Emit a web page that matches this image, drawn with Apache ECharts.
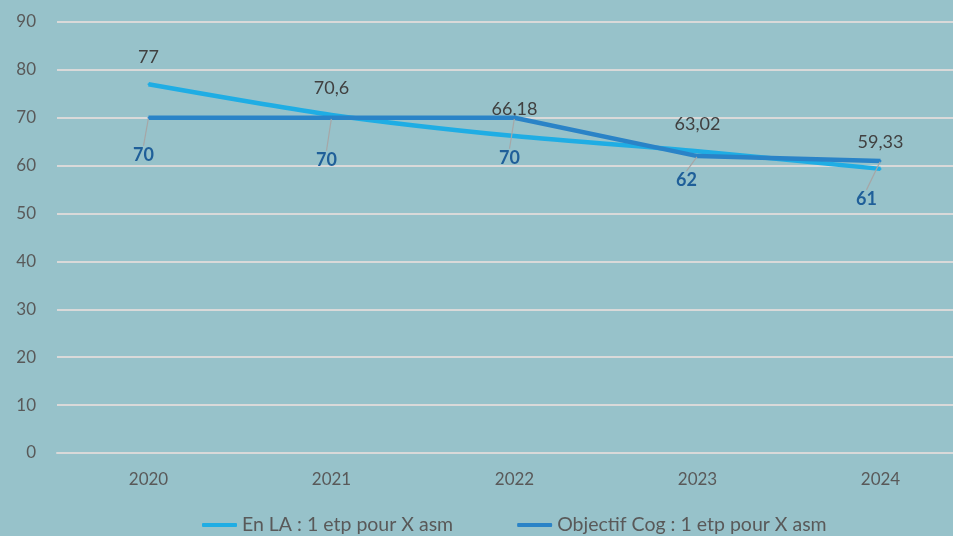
<!DOCTYPE html>
<html>
<head>
<meta charset="utf-8">
<script src="https://cdn.jsdelivr.net/npm/echarts@6/dist/echarts.min.js"></script>
<style>
  html, body { margin: 0; padding: 0; background: #97c2ca; }
  #chart { width: 953px; height: 536px; }
</style>
</head>
<body>
<div id="chart"></div>
<script>
var annees = ['2020', '2021', '2022', '2023', '2024'];
var enLA = [77, 70.6, 66.18, 63.02, 59.33];
var objectifCog = [70, 70, 70, 62, 61];
var nomsSeries = ['En LA : 1 etp pour X asm', 'Objectif Cog : 1 etp pour X asm'];

// decalage des etiquettes de la serie objectif (facon Excel)
var decalObjectif = [[-5, 37], [-5, 42], [-5, 40], [-11, 24], [-14, 38]];

var chart = echarts.init(document.getElementById('chart'));

function fmt(v) {
    return String(v).replace('.', ',');
}

var option = {
    backgroundColor: '#97c2ca',
    textStyle: { fontFamily: 'Lato' },
    grid: { left: 57, width: 915, top: 22, bottom: 83, outerBoundsMode: 'none' },
    legend: {
        bottom: -4,
        left: 197,
        icon: 'roundRect',
        itemWidth: 35,
        itemHeight: 4,
        itemGap: 64,
        textStyle: { color: '#595959', fontSize: 19.5, fontFamily: 'Lato' },
        data: nomsSeries
    },
    xAxis: {
        type: 'category',
        data: annees,
        axisLine: { show: true, lineStyle: { color: '#d9d9d9', width: 2 } },
        axisTick: { show: false },
        axisLabel: { color: '#595959', fontSize: 17, margin: 18 }
    },
    yAxis: {
        type: 'value',
        min: 0,
        max: 90,
        interval: 10,
        axisLabel: { color: '#595959', fontSize: 17, margin: 21 },
        splitLine: { lineStyle: { color: '#d9d9d9', width: 2 } }
    },
    series: [
        {
            name: nomsSeries[0],
            type: 'line',
            data: enLA,
            smooth: 0.25,
            symbol: 'circle',
            symbolSize: 2,
            itemStyle: { color: '#1fade4' },
            lineStyle: { color: '#1fade4', width: 4.5 },
            label: {
                show: true,
                position: 'top',
                distance: 17,
                color: '#404040',
                fontSize: 18,
                formatter: function (p) { return fmt(p.value); }
            },
            z: 2
        },
        {
            name: nomsSeries[1],
            type: 'line',
            data: objectifCog,
            symbol: 'circle',
            symbolSize: 2,
            itemStyle: { color: '#2a83c7' },
            lineStyle: { color: '#2a83c7', width: 4.5 },
            label: {
                show: true,
                position: 'inside',
                color: '#1f5f99',
                fontSize: 18,
                fontWeight: 'bold',
                formatter: function (p) { return fmt(p.value); }
            },
            labelLine: { show: true, lineStyle: { color: '#a6a6a6', width: 1.2 } },
            labelLayout: function (params) {
                var d = decalObjectif[params.dataIndex];
                return { dx: d[0], dy: d[1] };
            },
            z: 3
        }
    ]
};

chart.setOption(option);
</script>
</body>
</html>
